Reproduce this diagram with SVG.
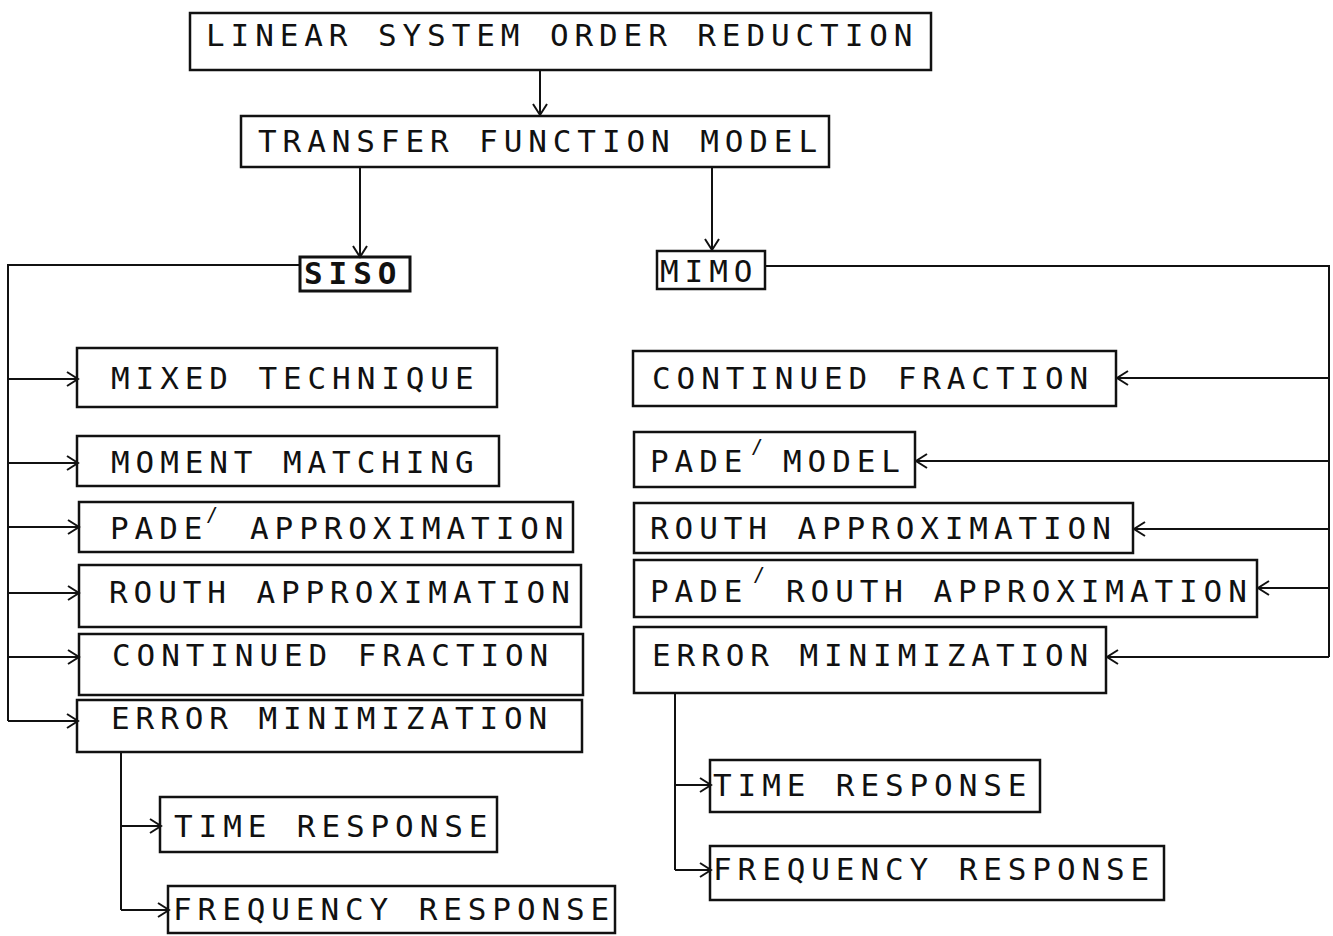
<svg xmlns="http://www.w3.org/2000/svg" width="1333" height="936" viewBox="0 0 1333 936">
<style>
  .box { fill: none; stroke: #111; stroke-width: 2.5; }
  .lbl { font-family: "DejaVu Sans Mono", "Liberation Mono", monospace; font-size: 31px; letter-spacing: 5.9px; fill: #111; }
  .bold { font-weight: bold; }
  .acc { font-family: "DejaVu Sans Mono", "Liberation Mono", monospace; font-size: 20px; fill: #111; }
  .conn { fill: none; stroke: #111; stroke-width: 2; }
</style>
<defs>
  <marker id="arr" viewBox="0 0 14 16" refX="12" refY="8" markerWidth="14" markerHeight="16" markerUnits="userSpaceOnUse" orient="auto">
    <path d="M1,1 L12,8 L1,15" fill="none" stroke="#111" stroke-width="2"/>
  </marker>
</defs>
<rect width="1333" height="936" fill="#fff"/>

<g id="connectors">
  <line class="conn" x1="540" y1="70" x2="540" y2="115" marker-end="url(#arr)"/>
  <line class="conn" x1="360" y1="167" x2="360" y2="257" marker-end="url(#arr)"/>
  <line class="conn" x1="712" y1="167" x2="712" y2="250" marker-end="url(#arr)"/>
  <polyline class="conn" points="300,265 8,265 8,721"/>
  <line class="conn" x1="8" y1="379" x2="78" y2="379" marker-end="url(#arr)"/>
  <line class="conn" x1="8" y1="463" x2="78" y2="463" marker-end="url(#arr)"/>
  <line class="conn" x1="8" y1="527" x2="79" y2="527" marker-end="url(#arr)"/>
  <line class="conn" x1="8" y1="593" x2="79" y2="593" marker-end="url(#arr)"/>
  <line class="conn" x1="8" y1="657" x2="79" y2="657" marker-end="url(#arr)"/>
  <line class="conn" x1="8" y1="721" x2="78" y2="721" marker-end="url(#arr)"/>
  <polyline class="conn" points="121,752 121,910"/>
  <line class="conn" x1="121" y1="826" x2="161" y2="826" marker-end="url(#arr)"/>
  <line class="conn" x1="121" y1="910" x2="169" y2="910" marker-end="url(#arr)"/>
  <polyline class="conn" points="765,266 1329,266 1329,657"/>
  <line class="conn" x1="1329" y1="378" x2="1117" y2="378" marker-end="url(#arr)"/>
  <line class="conn" x1="1329" y1="461" x2="916" y2="461" marker-end="url(#arr)"/>
  <line class="conn" x1="1329" y1="529" x2="1134" y2="529" marker-end="url(#arr)"/>
  <line class="conn" x1="1329" y1="588" x2="1258" y2="588" marker-end="url(#arr)"/>
  <line class="conn" x1="1329" y1="657" x2="1107" y2="657" marker-end="url(#arr)"/>
  <polyline class="conn" points="675,693 675,870"/>
  <line class="conn" x1="675" y1="785" x2="711" y2="785" marker-end="url(#arr)"/>
  <line class="conn" x1="675" y1="870" x2="711" y2="870" marker-end="url(#arr)"/>
</g>

<g id="n-linear">
  <rect class="box" x="190" y="13" width="741" height="57"/>
  <text class="lbl" x="206" y="46">LINEAR SYSTEM ORDER REDUCTION</text>
</g>
<g id="n-transfer">
  <rect class="box" x="241" y="116" width="588" height="51"/>
  <text class="lbl" x="258" y="152">TRANSFER FUNCTION MODEL</text>
</g>
<g id="n-siso">
  <rect class="box" x="300" y="257" width="110" height="34" style="stroke-width:3"/>
  <text class="lbl bold" x="304" y="284">SISO</text>
</g>
<g id="n-mimo">
  <rect class="box" x="657" y="251" width="108" height="38"/>
  <text class="lbl" x="660" y="282">MIMO</text>
</g>

<g id="n-siso-mixed">
  <rect class="box" x="77" y="348" width="420" height="59"/>
  <text class="lbl" x="111" y="389">MIXED TECHNIQUE</text>
</g>
<g id="n-siso-moment">
  <rect class="box" x="77" y="436" width="422" height="50"/>
  <text class="lbl" x="111" y="473">MOMENT MATCHING</text>
</g>
<g id="n-siso-pade">
  <rect class="box" x="79" y="502" width="494" height="50"/>
  <text class="lbl" x="110" y="539">PADE<tspan x="250">APPROXIMATION</tspan></text>
  <text class="acc" x="206" y="521">/</text>
</g>
<g id="n-siso-routh">
  <rect class="box" x="79" y="565" width="502" height="62"/>
  <text class="lbl" x="109" y="603">ROUTH APPROXIMATION</text>
</g>
<g id="n-siso-cont">
  <rect class="box" x="79" y="634" width="504" height="61"/>
  <text class="lbl" x="112" y="666">CONTINUED FRACTION</text>
</g>
<g id="n-siso-error">
  <rect class="box" x="77" y="700" width="505" height="52"/>
  <text class="lbl" x="111" y="729">ERROR MINIMIZATION</text>
</g>
<g id="n-siso-time">
  <rect class="box" x="160" y="797" width="337" height="55"/>
  <text class="lbl" x="174" y="837">TIME RESPONSE</text>
</g>
<g id="n-siso-freq">
  <rect class="box" x="168" y="886" width="447" height="47"/>
  <text class="lbl" x="173" y="920">FREQUENCY RESPONSE</text>
</g>

<g id="n-mimo-cont">
  <rect class="box" x="633" y="351" width="483" height="55"/>
  <text class="lbl" x="652" y="389">CONTINUED FRACTION</text>
</g>
<g id="n-mimo-pade">
  <rect class="box" x="634" y="432" width="281" height="55"/>
  <text class="lbl" x="650" y="472">PADE<tspan x="783">MODEL</tspan></text>
  <text class="acc" x="751" y="453">/</text>
</g>
<g id="n-mimo-routh">
  <rect class="box" x="634" y="503" width="499" height="50"/>
  <text class="lbl" x="650" y="539">ROUTH APPROXIMATION</text>
</g>
<g id="n-mimo-paderouth">
  <rect class="box" x="634" y="560" width="623" height="57"/>
  <text class="lbl" x="650" y="602">PADE<tspan x="786">ROUTH APPROXIMATION</tspan></text>
  <text class="acc" x="753" y="581">/</text>
</g>
<g id="n-mimo-error">
  <rect class="box" x="634" y="627" width="472" height="66"/>
  <text class="lbl" x="652" y="666">ERROR MINIMIZATION</text>
</g>
<g id="n-mimo-time">
  <rect class="box" x="710" y="760" width="330" height="52"/>
  <text class="lbl" x="713" y="796">TIME RESPONSE</text>
</g>
<g id="n-mimo-freq">
  <rect class="box" x="710" y="846" width="454" height="54"/>
  <text class="lbl" x="713" y="880">FREQUENCY RESPONSE</text>
</g>
</svg>
